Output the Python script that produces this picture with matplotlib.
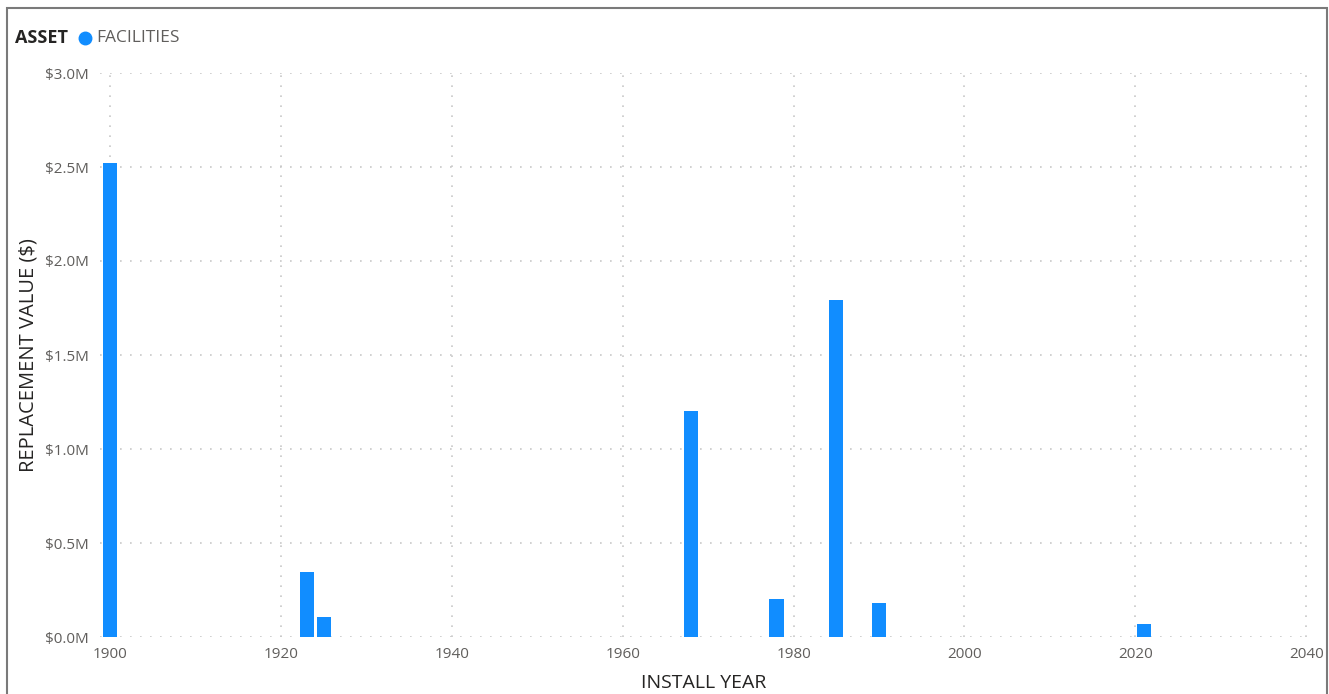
import matplotlib.pyplot as plt
from matplotlib.patches import Rectangle
from matplotlib.ticker import FuncFormatter

# replacement value of facilities by install year
years = [1900, 1923, 1925, 1968, 1978, 1985, 1990, 2021]
values = [2.52e6, 0.345e6, 0.106e6, 1.20e6, 0.20e6, 1.79e6, 0.18e6, 0.068e6]

x_ticks = [1900, 1920, 1940, 1960, 1980, 2000, 2020, 2040]
y_ticks = [0, 0.5e6, 1.0e6, 1.5e6, 2.0e6, 2.5e6, 3.0e6]

BLUE = "#118DFF"
TICK_GREY = "#605E5C"
TITLE_GREY = "#252423"

plt.rcParams["font.family"] = ["Open Sans", "DejaVu Sans"]

W, H = 1329, 694
fig = plt.figure(figsize=(W / 100, H / 100), dpi=100)
ax = fig.add_axes([100 / W, (H - 637) / H, (1307 - 100) / W, (637 - 73) / H])

ax.bar(years, values, width=1.65, color=BLUE, zorder=3)

ax.set_xlim(1898.8, 2040.1)
ax.set_ylim(0, 3.0e6)
ax.set_xticks(x_ticks)
ax.set_yticks(y_ticks)
ax.yaxis.set_major_formatter(FuncFormatter(lambda v, p: f"${v / 1e6:.1f}M"))

ax.grid(True, color="#C8C8C8", linestyle=(0, (1, 5)), linewidth=1.2, zorder=0)
for s in ax.spines.values():
    s.set_visible(False)
ax.tick_params(length=0, labelsize=11, colors=TICK_GREY)
ax.tick_params(axis="x", pad=7)
ax.tick_params(axis="y", pad=8)

ax.set_xlabel("INSTALL YEAR", fontsize=14, color=TITLE_GREY, labelpad=9)
ax.set_ylabel("REPLACEMENT VALUE ($)", fontsize=14.5, color=TITLE_GREY, labelpad=5)

# legend row on top
fig.text(15 / W, 1 - 38 / H, "ASSET", fontsize=13, fontweight="bold",
         color=TITLE_GREY, va="center", ha="left")
fig.add_artist(plt.Line2D([85 / W], [1 - 38 / H], marker="o", markersize=9,
                          color=BLUE, transform=fig.transFigure))
fig.text(96 / W, 1 - 38 / H, "FACILITIES", fontsize=12.5,
         color=TICK_GREY, va="center", ha="left")

# visual border
fig.add_artist(Rectangle((7 / W, -0.05), (1327 - 7) / W, 1 - 8 / H + 0.05,
                         transform=fig.transFigure, fill=False,
                         edgecolor="#7A7A7A", linewidth=1.5))

fig.savefig("out.png", dpi=100)
